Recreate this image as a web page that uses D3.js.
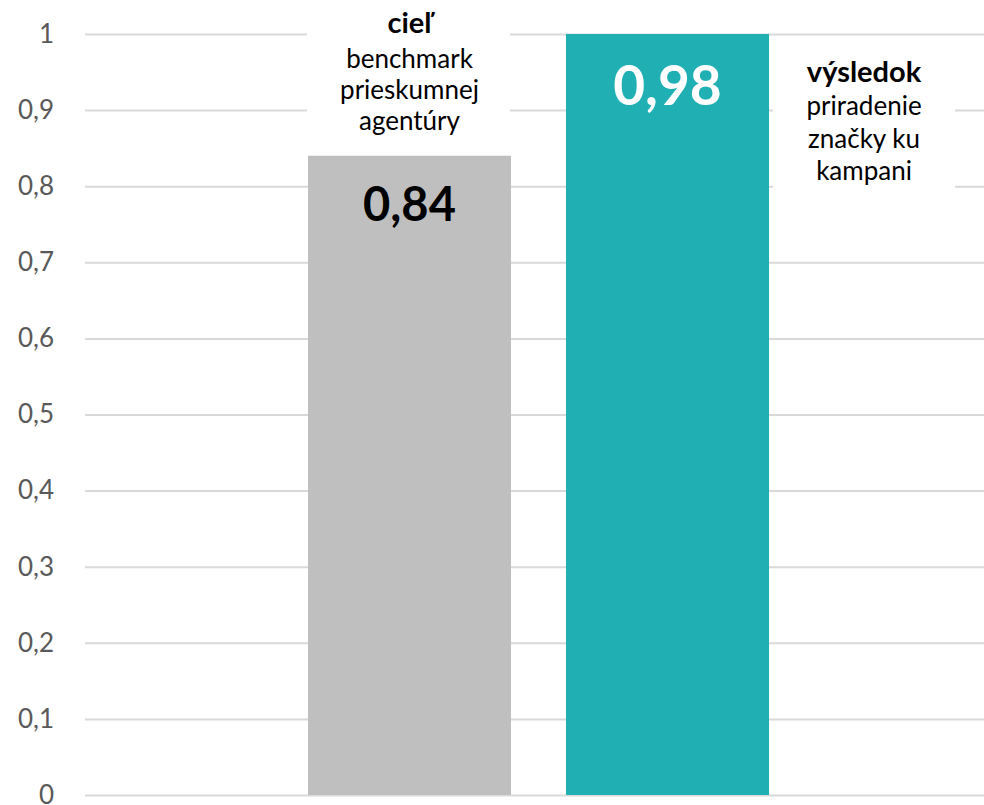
<!DOCTYPE html>
<html>
<head>
<meta charset="utf-8">
<script src="https://cdn.jsdelivr.net/npm/d3@7"></script>
<style>
  body { margin: 0; background: #fff; }
  svg { display: block; font-family: Lato, "Open Sans", sans-serif; }
</style>
</head>
<body>
<svg id="chart" width="984" height="805"></svg>
<script>
// data
let categories = ["cieľ", "výsledok"];
let barValues = [0.84, 1.0];
let valueLabels = ["0,84", "0,98"];
let barColors = ["#bfbfbf", "#20b0b3"];
let noteTitles = ["cieľ", "výsledok"];
let noteLines = [["benchmark", "prieskumnej", "agentúry"], ["priradenie", "značky ku", "kampani"]];
let yTicks = [0, 0.1, 0.2, 0.3, 0.4, 0.5, 0.6, 0.7, 0.8, 0.9, 1];

// set the dimensions and margins of the graph
let margin = {top: 34, right: 0, bottom: 10, left: 85},
    width = 984 - margin.left - margin.right,
    height = 805 - margin.top - margin.bottom;

let svg = d3.select("#chart")
  .append("g")
    .attr("transform", "translate(" + margin.left + "," + margin.top + ")");

// set the ranges
let x = d3.scaleBand()
    .domain(categories)
    .range([195.5, 711.5])
    .paddingInner(0.213)
    .paddingOuter(0.1065);
let y = d3.scaleLinear().domain([0, 1]).range([height, 0]);

// gridlines + y labels
let yAxis = svg.append("g")
    .call(d3.axisLeft(y)
      .tickValues(yTicks)
      .tickSize(-width)
      .tickPadding(31)
      .tickFormat(d => d3.format(".1~f")(d).replace(".", ",")));
yAxis.select(".domain").remove();
yAxis.selectAll("line").attr("stroke", "#d9d9d9").attr("stroke-width", 2);
yAxis.selectAll("text")
    .attr("fill", "#595959")
    .style("font-size", "26px")
    .style("font-family", "Lato, sans-serif");

// bars
svg.selectAll(".bar")
    .data(categories)
  .enter().append("rect")
    .attr("class", "bar")
    .attr("x", d => x(d))
    .attr("width", x.bandwidth())
    .attr("y", (d, i) => y(barValues[i]))
    .attr("height", (d, i) => height - y(barValues[i]))
    .attr("fill", (d, i) => barColors[i]);

// value labels inside bars
svg.selectAll(".val")
    .data(categories)
  .enter().append("text")
    .attr("class", "val")
    .attr("x", d => x(d) + x.bandwidth() / 2)
    .attr("y", (d, i) => y(barValues[i]) + (i === 0 ? 65 : 71))
    .attr("text-anchor", "middle")
    .attr("font-weight", "bold")
    .attr("font-size", (d, i) => i === 0 ? "47px" : "55px")
    .attr("fill", (d, i) => i === 0 ? "#000" : "#fff")
    .text((d, i) => valueLabels[i]);

// note boxes (white background hiding gridlines)
let bw = x.bandwidth();
let notes = [
  {cx: x(categories[0]) + bw / 2, bx: x(categories[0]) - 1, bwid: bw, by: -34, bh: 148, base: -1, first: 35, step: 31},
  {cx: x(categories[1]) + bw + 95, bx: x(categories[1]) + bw + 4, bwid: 182, by: 18, bh: 160, base: 48, first: 33, step: 32.5}
];

notes.forEach(function(n, i) {
  svg.append("rect")
      .attr("x", n.bx).attr("y", n.by)
      .attr("width", n.bwid).attr("height", n.bh)
      .attr("fill", "#fff");
  let t = svg.append("text")
      .attr("text-anchor", "middle")
      .attr("fill", "#000");
  t.append("tspan")
      .attr("x", n.cx).attr("y", n.base)
      .attr("font-weight", "bold")
      .attr("font-size", "29px")
      .text(noteTitles[i]);
  noteLines[i].forEach(function(s, j) {
    t.append("tspan")
        .attr("x", n.cx).attr("y", n.base + n.first + j * n.step)
        .attr("font-size", "26px")
        .text(s);
  });
});
</script>
</body>
</html>
